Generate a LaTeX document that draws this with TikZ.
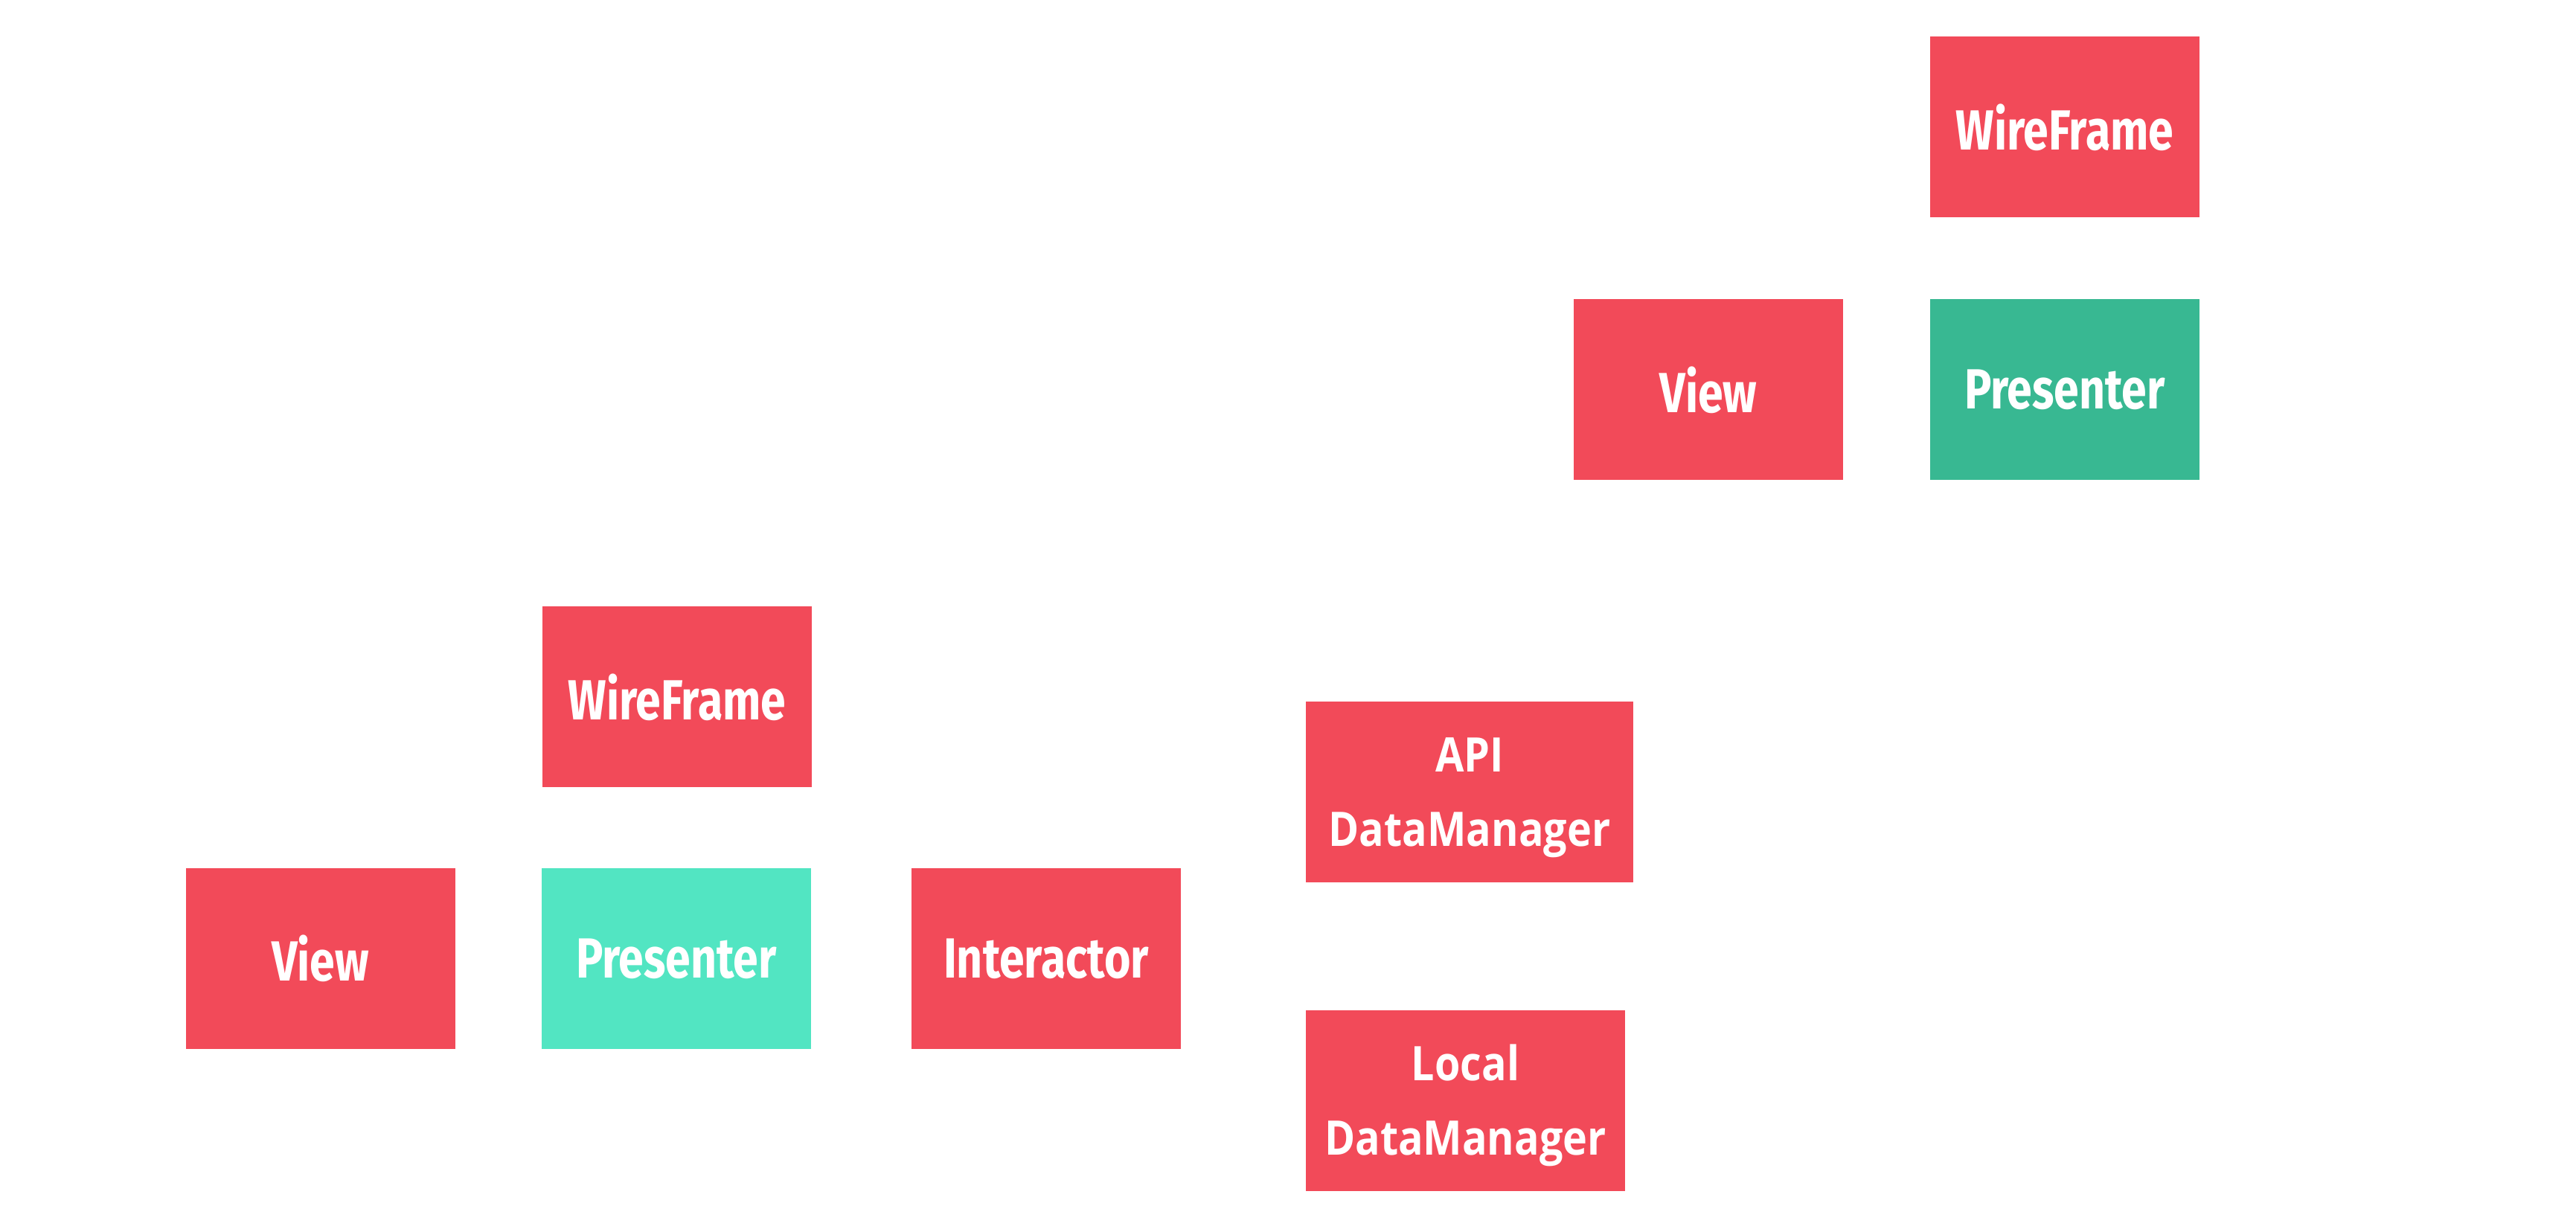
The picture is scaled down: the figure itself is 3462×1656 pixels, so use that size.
\documentclass[tikz,border=0pt]{standalone}
\usepackage{fontspec}
\setmainfont{Fira Sans}
\newfontfamily\condf{Fira Sans}[FakeStretch=0.8]
\newfontfamily\widef{Open Sans}[FakeStretch=0.87]
\definecolor{boxred}{HTML}{F24A59}
\definecolor{boxgreen}{HTML}{38B892}
\definecolor{boxteal}{HTML}{52E5C2}
\tikzset{
  card/.style={rectangle, draw=none, inner sep=0pt, text=white,
    minimum width=90.5pt, minimum height=60.75pt},
  redcard/.style={card, fill=boxred},
  greencard/.style={card, fill=boxgreen},
  tealcard/.style={card, fill=boxteal},
  onel/.style={font=\condf\bfseries\fontsize{19}{22}\selectfont},
  twol/.style={inner sep=0pt, text=white, font=\widef\bfseries\fontsize{16}{25}\selectfont, align=center}
}
\begin{document}
\begin{tikzpicture}[x=0.25pt,y=-0.25pt]
\useasboundingbox (0,0) rectangle (3462,1656);
\node[redcard, onel] (wf1) at (2775,171) {WireFrame};
\node[redcard, onel] (view1) at (2296,524) {View};
\node[greencard, onel] (pres1) at (2775,524) {Presenter};
\node[redcard, onel] (wf2) at (910,937) {WireFrame};
\node[redcard, onel] (view2) at (430.5,1288.5) {View};
\node[tealcard, onel] (pres2) at (909,1288.5) {Presenter};
\node[redcard, onel] (inter) at (1406,1288.5) {Interactor};
\node[redcard, minimum width=110pt] (api) at (1975,1064.5) {};
\node[twol] (apit) at ([yshift=-2pt]api.center) {API\\DataManager};
\node[redcard, minimum width=107.25pt] (local) at (1969.5,1479.5) {};
\node[twol] (localt) at ([yshift=-1.5pt]local.center) {Local\\DataManager};
\end{tikzpicture}
\end{document}
